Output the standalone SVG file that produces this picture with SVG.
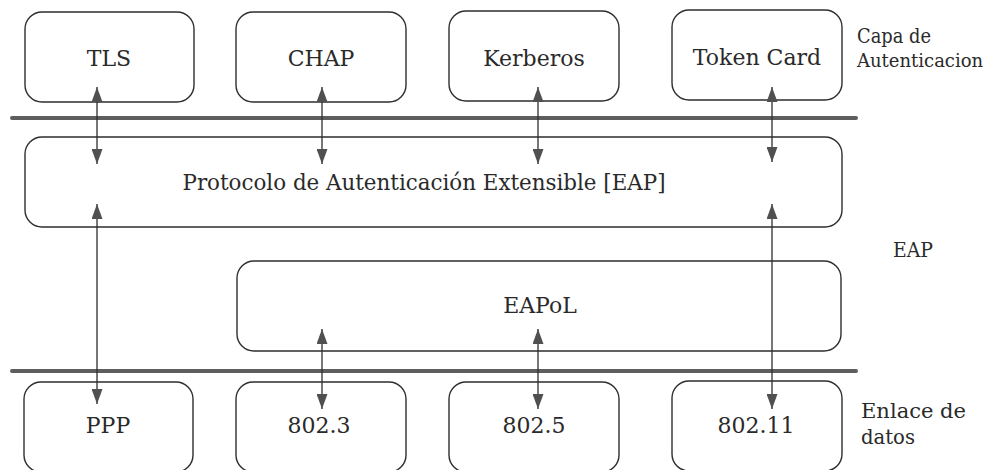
<svg xmlns="http://www.w3.org/2000/svg" width="992" height="470" viewBox="0 0 992 470">
  <style>
    .box { fill: #ffffff; stroke: #2e2e2e; stroke-width: 1.4; }
    .lbl { font-family: "DejaVu Serif", "Liberation Serif", serif; font-size: 22px; fill: #2a2a2a; text-anchor: middle; }
    .side { font-family: "DejaVu Serif", "Liberation Serif", serif; font-size: 20px; fill: #2a2a2a; }
    .sep { stroke: #5e5e5e; stroke-width: 4; stroke-linecap: round; }
    .link { stroke: #2e2e2e; stroke-width: 1.3; fill: none; marker-start: url(#head); marker-end: url(#head); }
  </style>
  <defs>
    <marker id="head" viewBox="0 0 15 11" refX="15" refY="5.5" markerWidth="15" markerHeight="11" markerUnits="userSpaceOnUse" orient="auto-start-reverse">
      <path d="M0,0 L15,5.5 L0,11 Z" fill="#505050"/>
    </marker>
  </defs>
  <rect width="992" height="470" fill="#ffffff"/>

  <!-- layer separators -->
  <g id="separators">
    <line class="sep" x1="12" y1="118" x2="856" y2="118"/>
    <line class="sep" x1="12" y1="371" x2="856" y2="371"/>
  </g>

  <!-- authentication layer -->
  <g id="tls"><rect class="box" x="25" y="12" width="169" height="90" rx="17"/><text class="lbl" x="109" y="66">TLS</text></g>
  <g id="chap"><rect class="box" x="236" y="12" width="170" height="90" rx="17"/><text class="lbl" x="321" y="66">CHAP</text></g>
  <g id="kerberos"><rect class="box" x="449" y="11" width="170" height="90" rx="17"/><text class="lbl" x="534" y="66">Kerberos</text></g>
  <g id="token-card"><rect class="box" x="672" y="10" width="170" height="90" rx="17"/><text class="lbl" x="757" y="65">Token Card</text></g>

  <!-- EAP layer -->
  <g id="eap"><rect class="box" x="25" y="137" width="817" height="90" rx="17"/><text class="lbl" x="424" y="190" textLength="483" lengthAdjust="spacingAndGlyphs">Protocolo de Autenticación Extensible [EAP]</text></g>
  <g id="eapol"><rect class="box" x="237" y="261" width="604" height="90" rx="17"/><text class="lbl" x="540" y="313">EAPoL</text></g>

  <!-- data link layer -->
  <g id="ppp"><rect class="box" x="24" y="382" width="169" height="90" rx="17"/><text class="lbl" x="108" y="433">PPP</text></g>
  <g id="ieee-802-3"><rect class="box" x="236" y="382" width="170" height="90" rx="17"/><text class="lbl" x="319" y="433">802.3</text></g>
  <g id="ieee-802-5"><rect class="box" x="449" y="382" width="170" height="90" rx="17"/><text class="lbl" x="534" y="433">802.5</text></g>
  <g id="ieee-802-11"><rect class="box" x="672" y="381" width="170" height="90" rx="17"/><text class="lbl" x="756" y="433">802.11</text></g>

  <!-- layer names -->
  <g id="layer-names">
    <text class="side" x="857" y="43" textLength="74" lengthAdjust="spacingAndGlyphs">Capa de</text>
    <text class="side" x="857" y="67" style="font-size:18px">Autenticacion</text>
    <text class="side" x="893" y="257" textLength="40" lengthAdjust="spacingAndGlyphs">EAP</text>
    <text class="side" x="861" y="418" textLength="105" lengthAdjust="spacingAndGlyphs">Enlace de</text>
    <text class="side" x="861" y="444" textLength="54" lengthAdjust="spacingAndGlyphs">datos</text>
  </g>

  <!-- connectors -->
  <g id="connectors">
    <line class="link" x1="97" y1="87" x2="97" y2="164"/>
    <line class="link" x1="322" y1="87" x2="322" y2="164"/>
    <line class="link" x1="538" y1="87" x2="538" y2="164"/>
    <line class="link" x1="772" y1="87" x2="772" y2="162"/>
    <line class="link" x1="97" y1="204" x2="97" y2="404"/>
    <line class="link" x1="772" y1="204" x2="772" y2="409"/>
    <line class="link" x1="322" y1="329" x2="322" y2="409"/>
    <line class="link" x1="538" y1="329" x2="538" y2="409"/>
  </g>
</svg>
